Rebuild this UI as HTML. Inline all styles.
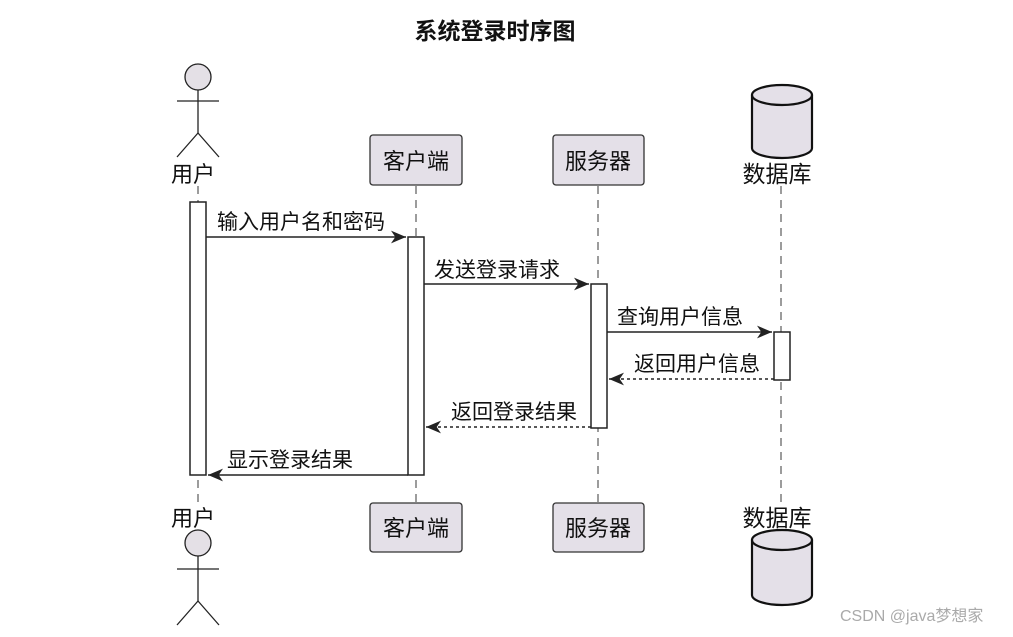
<!DOCTYPE html>
<html><head><meta charset="utf-8"><style>
html,body{margin:0;padding:0;background:#fff;}
svg{display:block;}
text{font-family:"Liberation Sans","Noto Sans CJK SC",sans-serif;fill:#111;}
</style></head><body>
<svg width="1013" height="637" viewBox="0 0 1013 637" xmlns="http://www.w3.org/2000/svg">
<defs>
<marker id="ah" viewBox="0 0 14 12" refX="14" refY="6" markerWidth="15" markerHeight="13" markerUnits="userSpaceOnUse" orient="auto">
<path d="M0,0 L14,6 L0,12 L4,6 Z" fill="#222"/>
</marker>
</defs>
<text x="495" y="39" font-size="23" font-weight="bold" text-anchor="middle">系统登录时序图</text>

<g stroke="#666" stroke-width="1.3" stroke-dasharray="8,6" fill="none">
<line x1="198" y1="186" x2="198" y2="502"/>
<line x1="416" y1="186" x2="416" y2="502"/>
<line x1="598" y1="186" x2="598" y2="502"/>
<line x1="781" y1="186" x2="781" y2="502"/>
</g>

<g stroke="#222" stroke-width="1.3" fill="none">
<circle cx="198" cy="77" r="13" fill="#e4e0e6"/>
<line x1="198" y1="90" x2="198" y2="133"/>
<line x1="177" y1="101" x2="219" y2="101"/>
<line x1="198" y1="133" x2="177" y2="157"/>
<line x1="198" y1="133" x2="219" y2="157"/>
</g>
<text x="193" y="182" font-size="22" text-anchor="middle">用户</text>

<text x="193" y="526" font-size="22" text-anchor="middle">用户</text>
<g stroke="#222" stroke-width="1.3" fill="none">
<circle cx="198" cy="543" r="13" fill="#e4e0e6"/>
<line x1="198" y1="556" x2="198" y2="601"/>
<line x1="177" y1="569" x2="219" y2="569"/>
<line x1="198" y1="601" x2="177" y2="625"/>
<line x1="198" y1="601" x2="219" y2="625"/>
</g>

<g fill="#e4e0e8" stroke="#333" stroke-width="1.3">
<rect x="370" y="135" width="92" height="50" rx="3"/>
<rect x="553" y="135" width="91" height="50" rx="3"/>
<rect x="370" y="503" width="92" height="49" rx="3"/>
<rect x="553" y="503" width="91" height="49" rx="3"/>
</g>
<text x="416" y="169" font-size="22" text-anchor="middle">客户端</text>
<text x="598" y="169" font-size="22" text-anchor="middle">服务器</text>
<text x="416" y="536" font-size="22" text-anchor="middle">客户端</text>
<text x="598" y="536" font-size="22" text-anchor="middle">服务器</text>

<g stroke="#111" stroke-width="2.2" fill="#e4e0e8">
<path d="M752,95 A30,10 0 0 1 812,95 L812,148 A30,10 0 0 1 752,148 Z"/>
<path d="M752,95 A30,10 0 0 0 812,95" fill="none"/>
<path d="M752,540 A30,10 0 0 1 812,540 L812,595 A30,10 0 0 1 752,595 Z"/>
<path d="M752,540 A30,10 0 0 0 812,540" fill="none"/>
</g>
<text x="777" y="182" font-size="23" text-anchor="middle">数据库</text>
<text x="777" y="526" font-size="23" text-anchor="middle">数据库</text>

<g fill="#fff" stroke="#222" stroke-width="1.5">
<rect x="190" y="202" width="16" height="273"/>
<rect x="408" y="237" width="16" height="238"/>
<rect x="591" y="284" width="16" height="144"/>
<rect x="774" y="332" width="16" height="48"/>
</g>

<g stroke="#222" stroke-width="1.5" fill="none">
<line x1="206" y1="237" x2="406" y2="237" marker-end="url(#ah)"/>
<line x1="424" y1="284" x2="589" y2="284" marker-end="url(#ah)"/>
<line x1="607" y1="332" x2="772" y2="332" marker-end="url(#ah)"/>
<line x1="774" y1="379" x2="609" y2="379" stroke-dasharray="3,3" marker-end="url(#ah)"/>
<line x1="591" y1="427" x2="426" y2="427" stroke-dasharray="3,3" marker-end="url(#ah)"/>
<line x1="408" y1="475" x2="208" y2="475" marker-end="url(#ah)"/>
</g>
<g font-size="21">
<text x="217" y="229">输入用户名和密码</text>
<text x="434" y="277">发送登录请求</text>
<text x="617" y="324">查询用户信息</text>
<text x="634" y="371">返回用户信息</text>
<text x="451" y="419">返回登录结果</text>
<text x="227" y="467">显示登录结果</text>
</g>

<text x="840" y="621" font-size="16" style="fill:#aaa">CSDN @java梦想家</text>
</svg>
</body></html>
